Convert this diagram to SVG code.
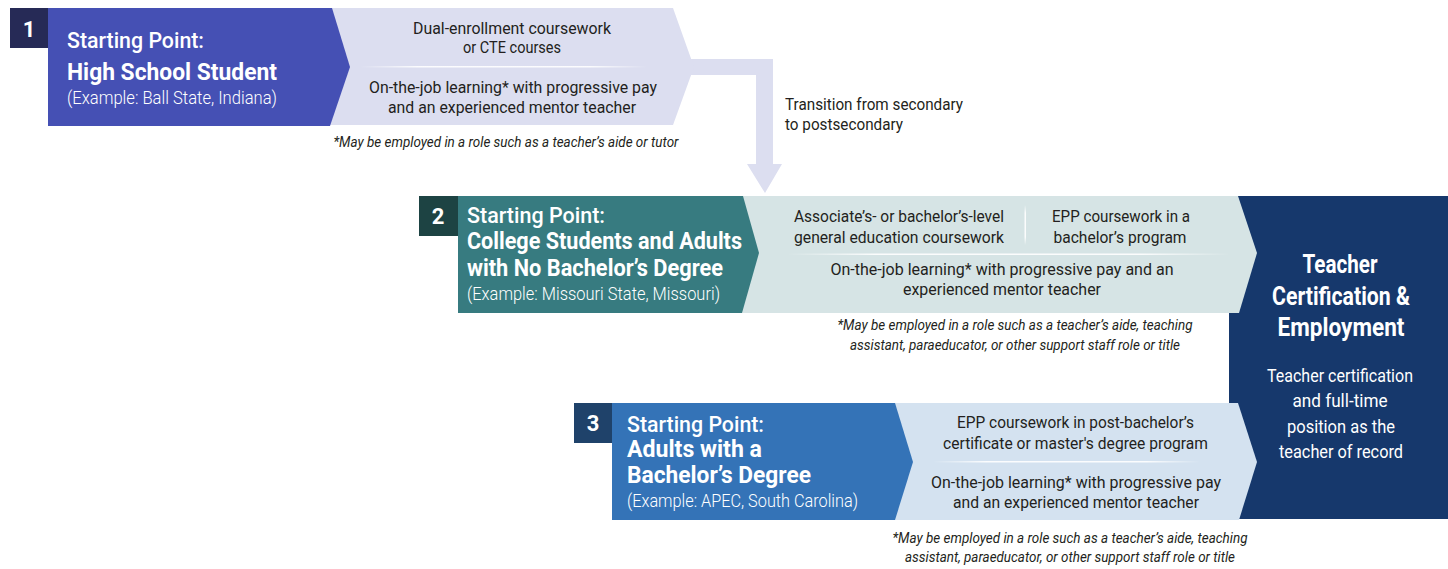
<svg xmlns="http://www.w3.org/2000/svg" width="1448" height="569" viewBox="0 0 1448 569">
<style>
text{font-family:Roboto,"Liberation Sans",Arial,sans-serif}
.body{font-size:16.5px;fill:#231f20;text-anchor:middle}
.note{font-size:14.5px;font-style:italic;fill:#231f20;text-anchor:middle}
.sp{font-size:22px;font-weight:500;fill:#fff}
.hd{font-size:24px;font-weight:700;fill:#fff}
.ex{font-size:18px;font-weight:300;fill:#fff}
.num{font-size:22px;font-weight:700;fill:#fff;text-anchor:middle}
.nvh{font-size:25px;font-weight:700;fill:#fff;text-anchor:middle}
.nv{font-size:19px;fill:#fff;text-anchor:middle}
.tr{font-size:17px;fill:#231f20}
</style>
<defs>
<linearGradient id="fadeH" x1="0" y1="0" x2="1" y2="0">
<stop offset="0" stop-color="#fff" stop-opacity="0"/>
<stop offset="0.2" stop-color="#fff" stop-opacity="0.9"/>
<stop offset="0.8" stop-color="#fff" stop-opacity="0.9"/>
<stop offset="1" stop-color="#fff" stop-opacity="0"/>
</linearGradient>
<linearGradient id="fadeV" x1="0" y1="0" x2="0" y2="1">
<stop offset="0" stop-color="#fff" stop-opacity="0"/>
<stop offset="0.2" stop-color="#fff" stop-opacity="0.9"/>
<stop offset="0.8" stop-color="#fff" stop-opacity="0.9"/>
<stop offset="1" stop-color="#fff" stop-opacity="0"/>
</linearGradient>
</defs>

<g id="outcome">
<rect x="1229" y="196" width="219" height="323" fill="#16386c"/>
<text class="nvh" x="1340" y="273" textLength="75" lengthAdjust="spacingAndGlyphs">Teacher</text>
<text class="nvh" x="1341" y="305" textLength="138" lengthAdjust="spacingAndGlyphs">Certification &amp;</text>
<text class="nvh" x="1341" y="336" textLength="127" lengthAdjust="spacingAndGlyphs">Employment</text>
<text class="nv" x="1340" y="382" textLength="146" lengthAdjust="spacingAndGlyphs">Teacher certification</text>
<text class="nv" x="1340" y="407" textLength="95" lengthAdjust="spacingAndGlyphs">and full-time</text>
<text class="nv" x="1341" y="433" textLength="108" lengthAdjust="spacingAndGlyphs">position as the</text>
<text class="nv" x="1341" y="458" textLength="124" lengthAdjust="spacingAndGlyphs">teacher of record</text>
</g>

<g id="connectors">
<polygon points="684,59 773,59 773,164 782,164 765,193 747,164 756,164 756,75 684,75" fill="#dcdef0"/>
</g>

<g id="row1-steps">
<polygon points="330,8 673,8 694,67 673,125 330,125" fill="#dcdef0"/>
<rect x="360" y="66" width="287" height="1.5" fill="url(#fadeH)"/>
<text class="body" x="512" y="34" textLength="198" lengthAdjust="spacingAndGlyphs">Dual-enrollment coursework</text>
<text class="body" x="512" y="53" textLength="98" lengthAdjust="spacingAndGlyphs">or CTE courses</text>
<text class="body" x="513" y="93" textLength="288" lengthAdjust="spacingAndGlyphs">On-the-job learning* with progressive pay</text>
<text class="body" x="512" y="113" textLength="248" lengthAdjust="spacingAndGlyphs">and an experienced mentor teacher</text>
</g>

<g id="row1-start">
<rect x="10" y="8" width="39" height="40" fill="#262a56"/>
<text class="num" x="29" y="37">1</text>
<polygon points="48,8 332,8 350,67 330,126 48,126" fill="#4550b4"/>
<text class="sp" x="67" y="48" textLength="137" lengthAdjust="spacingAndGlyphs">Starting Point:</text>
<text class="hd" x="67" y="80" textLength="210" lengthAdjust="spacingAndGlyphs">High School Student</text>
<text class="ex" x="67" y="104" textLength="210" lengthAdjust="spacingAndGlyphs">(Example: Ball State, Indiana)</text>
</g>

<g id="row1-note">
<text class="note" x="506" y="147" textLength="345" lengthAdjust="spacingAndGlyphs">*May be employed in a role such as a teacher’s aide or tutor</text>
</g>

<g id="transition-label">
<text class="tr" x="785" y="110" textLength="178" lengthAdjust="spacingAndGlyphs">Transition from secondary</text>
<text class="tr" x="785" y="130" textLength="118" lengthAdjust="spacingAndGlyphs">to postsecondary</text>
</g>

<g id="row2-steps">
<polygon points="740,196 1238,196 1257,253 1239,313 740,313" fill="#d6e4e5"/>
<rect x="1024.5" y="205" width="1.5" height="40" fill="url(#fadeV)"/>
<rect x="787" y="253.5" width="443" height="1.5" fill="url(#fadeH)"/>
<text class="body" x="899" y="222" textLength="210" lengthAdjust="spacingAndGlyphs">Associate’s- or bachelor’s-level</text>
<text class="body" x="899" y="243" textLength="210" lengthAdjust="spacingAndGlyphs">general education coursework</text>
<text class="body" x="1121" y="222" textLength="138" lengthAdjust="spacingAndGlyphs">EPP coursework in a</text>
<text class="body" x="1120" y="243" textLength="133" lengthAdjust="spacingAndGlyphs">bachelor’s program</text>
<text class="body" x="1002" y="275" textLength="343" lengthAdjust="spacingAndGlyphs">On-the-job learning* with progressive pay and an</text>
<text class="body" x="1002" y="295" textLength="198" lengthAdjust="spacingAndGlyphs">experienced mentor teacher</text>
</g>

<g id="row2-start">
<rect x="419" y="196" width="40" height="40" fill="#1d4343"/>
<text class="num" x="438" y="224">2</text>
<polygon points="458,196 743,196 759,253 742,313 458,313" fill="#377b80"/>
<text class="sp" x="467" y="223" textLength="138" lengthAdjust="spacingAndGlyphs">Starting Point:</text>
<text class="hd" x="467" y="249" textLength="275" lengthAdjust="spacingAndGlyphs">College Students and Adults</text>
<text class="hd" x="467" y="276" textLength="256" lengthAdjust="spacingAndGlyphs">with No Bachelor’s Degree</text>
<text class="ex" x="467" y="300" textLength="253" lengthAdjust="spacingAndGlyphs">(Example: Missouri State, Missouri)</text>
</g>

<g id="row2-note">
<text class="note" x="1015" y="330" textLength="355" lengthAdjust="spacingAndGlyphs">*May be employed in a role such as a teacher’s aide, teaching</text>
<text class="note" x="1015" y="350" textLength="330" lengthAdjust="spacingAndGlyphs">assistant, paraeducator, or other support staff role or title</text>
</g>

<g id="row3-steps">
<polygon points="893,403 1238,403 1257,462 1239,520 893,520" fill="#d4e2f0"/>
<rect x="933" y="461" width="267" height="1.5" fill="url(#fadeH)"/>
<text class="body" x="1075.5" y="428" textLength="237" lengthAdjust="spacingAndGlyphs">EPP coursework in post-bachelor’s</text>
<text class="body" x="1075.5" y="449" textLength="265" lengthAdjust="spacingAndGlyphs">certificate or master's degree program</text>
<text class="body" x="1076" y="488" textLength="290" lengthAdjust="spacingAndGlyphs">On-the-job learning* with progressive pay</text>
<text class="body" x="1076" y="508" textLength="246" lengthAdjust="spacingAndGlyphs">and an experienced mentor teacher</text>
</g>

<g id="row3-start">
<rect x="574" y="403" width="39" height="40" fill="#1f426a"/>
<text class="num" x="593" y="431">3</text>
<polygon points="612,403 895,403 913,462 895,520 612,520" fill="#3473b7"/>
<text class="sp" x="627" y="432" textLength="137" lengthAdjust="spacingAndGlyphs">Starting Point:</text>
<text class="hd" x="627" y="457" textLength="135" lengthAdjust="spacingAndGlyphs">Adults with a</text>
<text class="hd" x="627" y="483" textLength="184" lengthAdjust="spacingAndGlyphs">Bachelor’s Degree</text>
<text class="ex" x="627" y="507" textLength="231" lengthAdjust="spacingAndGlyphs">(Example: APEC, South Carolina)</text>
</g>

<g id="row3-note">
<text class="note" x="1070" y="543" textLength="355" lengthAdjust="spacingAndGlyphs">*May be employed in a role such as a teacher’s aide, teaching</text>
<text class="note" x="1070" y="562" textLength="330" lengthAdjust="spacingAndGlyphs">assistant, paraeducator, or other support staff role or title</text>
</g>
</svg>
